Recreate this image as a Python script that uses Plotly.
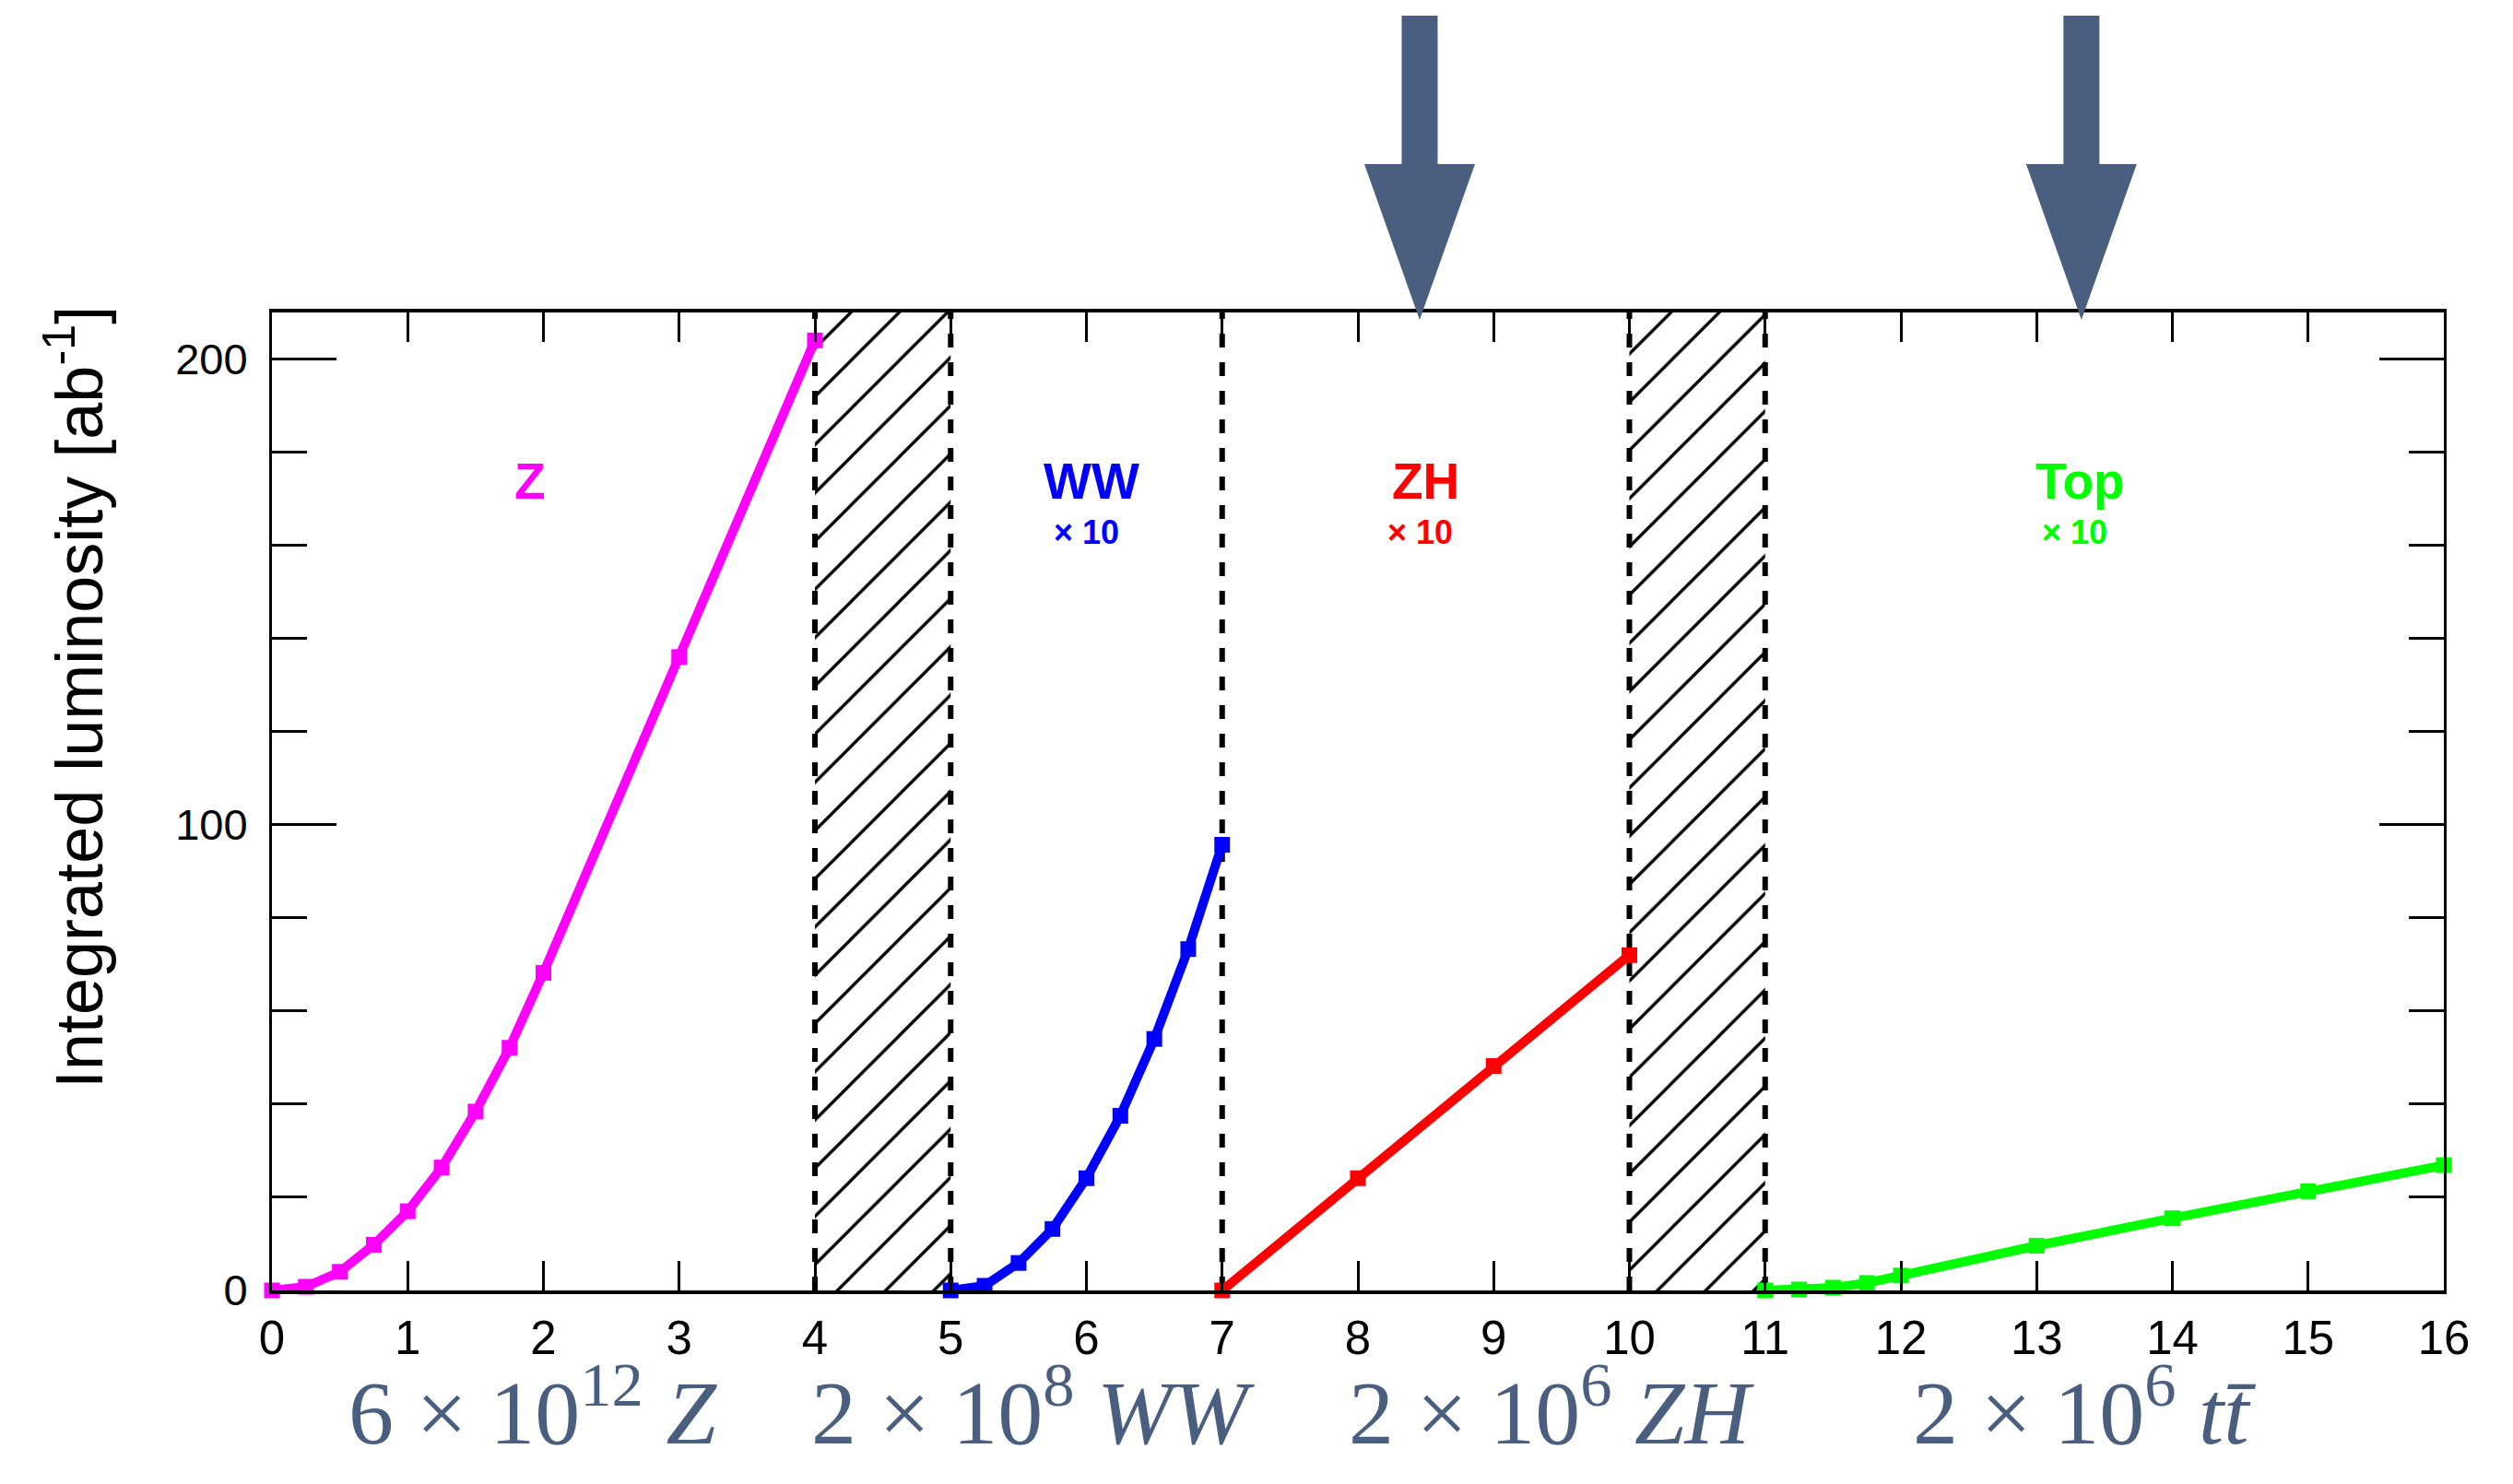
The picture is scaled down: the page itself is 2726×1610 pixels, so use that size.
import plotly.graph_objects as go

# ---------------- data ----------------
z_x = [0, 0.25, 0.5, 0.75, 1.0, 1.25, 1.5, 1.75, 2.0, 3.0, 4.0]
z_y = [0, 0.8, 4.0, 9.8, 17.0, 26.4, 38.4, 52.1, 68.2, 136.0, 204.0]

ww_x = [5.0, 5.25, 5.5, 5.75, 6.0, 6.25, 6.5, 6.75, 7.0]
ww_y = [0, 1.0, 5.9, 13.2, 24.1, 37.5, 54.0, 73.3, 95.7]

zh_x = [7, 8, 9, 10]
zh_y = [0, 24.1, 48.2, 72.0]

top_x = [11, 11.25, 11.5, 11.75, 12, 13, 14, 15, 16]
top_y = [0, 0.2, 0.6, 1.6, 3.2, 9.6, 15.5, 21.3, 26.9]

gap_start = [4, 10]          # shutdown periods (hatched)
gap_end = [5, 11]
dividers = [4, 5, 7, 10, 11]  # dashed separators

x_range = [0, 16]
y_range = [0, 210]

label_text = ["Z", "WW", "ZH", "Top"]
label_x = [1.9, 6.04, 8.5, 13.32]
label_color = ["#ff00ff", "#0000ff", "#ff0000", "#00ff00"]
scale_text = ["", "× 10", "× 10", "× 10"]

arrow_x = [8.455, 13.33]

bottom_text = ["6 × 10<sup>12</sup> <i>Z</i>",
               "2 × 10<sup>8</sup> <i>WW</i>",
               "2 × 10<sup>6</sup> <i>ZH</i>",
               "2 × 10<sup>6</sup> <i>tt\u0304</i>"]
bottom_x = [1.92, 5.61, 9.43, 13.35]

slate = "#4a5f7f"

fig = go.Figure()

# hatched shutdown regions
fig.add_trace(go.Bar(
    x=[(a + b) / 2 for a, b in zip(gap_start, gap_end)],
    y=[y_range[1]] * len(gap_start),
    width=[b - a for a, b in zip(gap_start, gap_end)],
    base=0,
    marker=dict(color="rgba(0,0,0,0)", line=dict(width=0),
                pattern=dict(shape="/", fgcolor="black", fgopacity=1, size=37,
                             solidity=0.09, fillmode="overlay")),
    hoverinfo="skip", showlegend=False,
))

series = [(z_x, z_y, "#ff00ff"), (ww_x, ww_y, "#0000ff"),
          (zh_x, zh_y, "#ff0000"), (top_x, top_y, "#00ff00")]
for xs, ys, c in series:
    fig.add_trace(go.Scatter(
        x=xs, y=ys, mode="lines+markers",
        line=dict(color=c, width=10),
        marker=dict(symbol="square", size=17, color=c, line=dict(width=0)),
        cliponaxis=False, showlegend=False,
    ))

shapes = []
for d in dividers:
    shapes.append(dict(type="line", xref="x", yref="paper", x0=d, x1=d, y0=0, y1=1,
                       line=dict(color="black", width=6, dash="15px,16px"), layer="below"))

arrow_path = "M -19.5,322 L 19.5,322 L 19.5,161 L 60,161 L 0,-8 L -60,161 L -19.5,161 Z"
for ax_ in arrow_x:
    shapes.append(dict(type="path", xref="paper", yref="paper",
                       xsizemode="pixel", ysizemode="pixel",
                       xanchor=(ax_ - x_range[0]) / (x_range[1] - x_range[0]), yanchor=1,
                       path=arrow_path, fillcolor=slate, line=dict(width=0), layer="above"))

annotations = []
for t, x, c, s in zip(label_text, label_x, label_color, scale_text):
    annotations.append(dict(x=x, y=173.7, xref="x", yref="y", text="<b>%s</b>" % t,
                            showarrow=False, font=dict(family="Liberation Sans", size=55, color=c)))
    if s:
        annotations.append(dict(x=x - 0.04, y=162.8, xref="x", yref="y", text="<b>%s</b>" % s,
                                showarrow=False, font=dict(family="Liberation Sans", size=36, color=c)))

for t, x in zip(bottom_text, bottom_x):
    annotations.append(dict(x=x, y=0, xref="x", yref="paper", text=t, showarrow=False,
                            yanchor="middle", yshift=-125,
                            font=dict(family="Liberation Serif", size=98, color=slate)))

annotations.append(dict(x=0, y=0.606, xref="paper", yref="paper", xshift=-215,
                        text="Integrated luminosity [ab<sup>-1</sup>]", textangle=-90,
                        showarrow=False, xanchor="center", yanchor="middle",
                        font=dict(family="Liberation Sans", size=72, color="black")))

fig.update_layout(
    width=2726, height=1610,
    margin=dict(l=295, r=75, t=339, b=210),
    paper_bgcolor="white", plot_bgcolor="white",
    showlegend=False, barmode="overlay",
    shapes=shapes, annotations=annotations,
    font=dict(family="Liberation Sans", color="black"),
)

fig.update_xaxes(
    range=x_range, tick0=0, dtick=1, ticks="inside", ticklen=32, tickwidth=3,
    tickcolor="black", showline=True, linecolor="black", linewidth=4,
    mirror="ticks", showgrid=False, zeroline=False,
    tickfont=dict(family="Liberation Sans", size=51, color="black"),
    ticklabelstandoff=4,
)
fig.update_yaxes(
    range=y_range, tick0=0, dtick=100, ticks="inside", ticklen=70, tickwidth=3,
    tickcolor="black", showline=True, linecolor="black", linewidth=3,
    mirror="ticks", showgrid=False, zeroline=False,
    minor=dict(dtick=20, ticks="inside", ticklen=38, tickwidth=3, tickcolor="black", showgrid=False),
    tickfont=dict(family="Liberation Sans", size=47, color="black"),
    ticklabelstandoff=14,
)

fig.write_html("out.html")
